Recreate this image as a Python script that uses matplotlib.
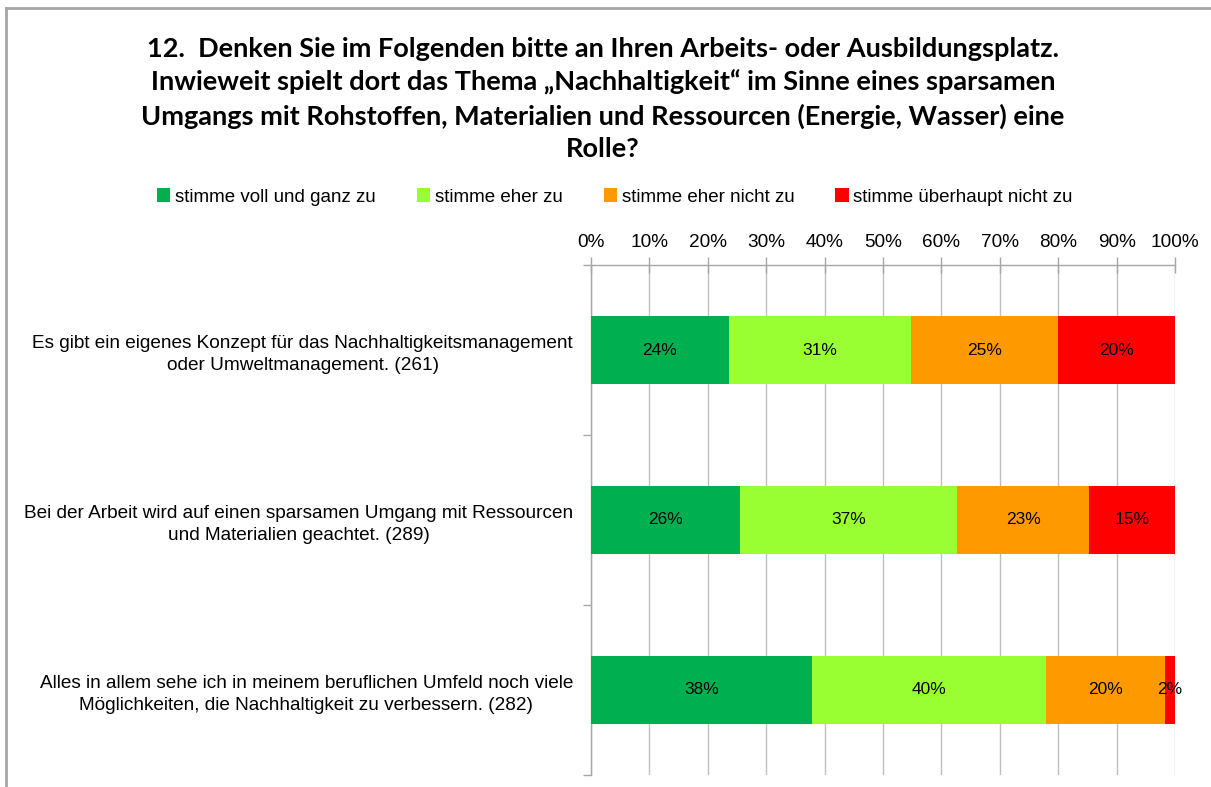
import matplotlib
matplotlib.use("Agg")
import matplotlib.pyplot as plt
from matplotlib.patches import Patch
from matplotlib.lines import Line2D
import numpy as np

categories = [
    "Es gibt ein eigenes Konzept für das Nachhaltigkeitsmanagement\noder Umweltmanagement. (261)",
    "Bei der Arbeit wird auf einen sparsamen Umgang mit Ressourcen\nund Materialien geachtet. (289)",
    "Alles in allem sehe ich in meinem beruflichen Umfeld noch viele\nMöglichkeiten, die Nachhaltigkeit zu verbessern. (282)",
]
series_names = ["stimme voll und ganz zu", "stimme eher zu", "stimme eher nicht zu", "stimme überhaupt nicht zu"]
voll = [23.6, 25.5, 37.8]
eher = [31.2, 37.2, 40.1]
eher_nicht = [25.2, 22.6, 20.4]
gar_nicht = [20.0, 14.7, 1.7]
xticks = [0, 10, 20, 30, 40, 50, 60, 70, 80, 90, 100]
xticklabels = ["0%", "10%", "20%", "30%", "40%", "50%", "60%", "70%", "80%", "90%", "100%"]
colors = ["#00B050", "#99FF33", "#FF9900", "#FF0000"]

title = ("12.  Denken Sie im Folgenden bitte an Ihren Arbeits- oder Ausbildungsplatz.\n"
         "Inwieweit spielt dort das Thema „Nachhaltigkeit“ im Sinne eines sparsamen\n"
         "Umgangs mit Rohstoffen, Materialien und Ressourcen (Energie, Wasser) eine\n"
         "Rolle?")

plt.rcParams['font.family'] = ["Liberation Sans", "DejaVu Sans"]

W, H = 1211, 787
fig = plt.figure(figsize=(W / 100, H / 100), dpi=100)
fig.patch.set_facecolor("white")

ax = fig.add_axes([591 / W, 1 - 775 / H, (1175 - 591) / W, (775 - 265) / H])

series = [voll, eher, eher_nicht, gar_nicht]
y = np.arange(len(categories))
left = np.zeros(len(categories))
for name, vals, c in zip(series_names, series, colors):
    vals = np.array(vals)
    ax.barh(y, vals, left=left, height=0.4, color=c, label=name, zorder=3)
    for yi, l, v in zip(y, left, vals):
        ax.text(l + v / 2, yi, f"{int(round(v))}%", ha="center", va="center",
                fontsize=12.5, color="black", zorder=4)
    left = left + vals

ax.set_xlim(0, 100)
ax.set_ylim(len(categories) - 0.5, -0.5)
ax.xaxis.tick_top()
ax.set_xticks(xticks)
ax.set_xticklabels(xticklabels, fontsize=13.7)
ax.tick_params(axis="x", which="major", direction="inout", length=12, color="#A6A6A6",
               width=1, pad=4)
ax.set_yticks(y)
ax.set_yticklabels(categories, fontsize=13.7, multialignment="center", linespacing=1.4)
ax.tick_params(axis="y", which="major", length=0, pad=13)
ax.set_yticks(np.arange(-0.5, len(categories), 1.0), minor=True)
ax.tick_params(axis="y", which="minor", length=6, color="#A6A6A6", width=1)
ax.grid(axis="x", color="#BFBFBF", linewidth=1, zorder=0)
ax.set_axisbelow(True)
for s in ["right", "bottom"]:
    ax.spines[s].set_visible(False)
for s in ["left", "top"]:
    ax.spines[s].set_color("#A6A6A6")
    ax.spines[s].set_linewidth(1)

fig.text(603 / W, 1 - 99 / H, title, ha="center", va="center", fontsize=19.5,
         fontweight="bold", family=["Lato", "DejaVu Sans"], linespacing=1.4)

handles = [Patch(facecolor=c, edgecolor="none") for c in colors]
fig.legend(handles, series_names, loc="center", bbox_to_anchor=(615 / W, 1 - 197 / H),
           ncol=4, frameon=False, fontsize=13.5, handlelength=0.7, handleheight=0.7,
           handletextpad=0.25, columnspacing=2.2, borderpad=0)

fig.add_artist(Line2D([6 / W, 1], [1 - 8 / H, 1 - 8 / H], color="#A6A6A6", lw=2))
fig.add_artist(Line2D([6 / W, 6 / W], [0, 1 - 8 / H], color="#A6A6A6", lw=2))

fig.savefig("out.png", dpi=100, facecolor="white")
